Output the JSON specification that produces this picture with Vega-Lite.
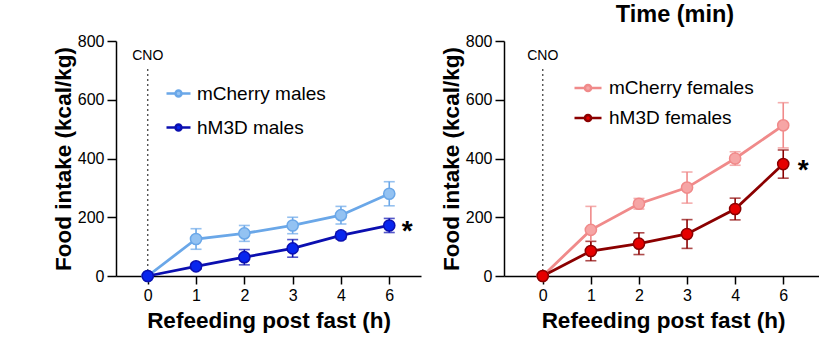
{
  "$schema": "https://vega.github.io/schema/vega-lite/v6.json",
  "padding": {"left": 52, "top": 2, "right": 0, "bottom": 5},
  "background": "white",
  "datasets": {
    "males": [
      {"group": "mCherry males", "h": "0", "mean": 0, "sem": 0},
      {"group": "mCherry males", "h": "1", "mean": 126, "sem": 35},
      {"group": "mCherry males", "h": "2", "mean": 145, "sem": 27},
      {"group": "mCherry males", "h": "3", "mean": 172, "sem": 28},
      {"group": "mCherry males", "h": "4", "mean": 207, "sem": 30},
      {"group": "mCherry males", "h": "6", "mean": 280, "sem": 41},
      {"group": "hM3D males", "h": "0", "mean": 0, "sem": 0},
      {"group": "hM3D males", "h": "1", "mean": 33, "sem": 10},
      {"group": "hM3D males", "h": "2", "mean": 64, "sem": 26},
      {"group": "hM3D males", "h": "3", "mean": 94, "sem": 30},
      {"group": "hM3D males", "h": "4", "mean": 138, "sem": 12},
      {"group": "hM3D males", "h": "6", "mean": 172, "sem": 24}
    ],
    "females": [
      {"group": "mCherry females", "h": "0", "mean": 0, "sem": 0},
      {"group": "mCherry females", "h": "1", "mean": 157, "sem": 80},
      {"group": "mCherry females", "h": "2", "mean": 246, "sem": 18},
      {"group": "mCherry females", "h": "3", "mean": 301, "sem": 53},
      {"group": "mCherry females", "h": "4", "mean": 400, "sem": 23},
      {"group": "mCherry females", "h": "6", "mean": 513, "sem": 77},
      {"group": "hM3D females", "h": "0", "mean": 0, "sem": 0},
      {"group": "hM3D females", "h": "1", "mean": 85, "sem": 33},
      {"group": "hM3D females", "h": "2", "mean": 110, "sem": 37},
      {"group": "hM3D females", "h": "3", "mean": 143, "sem": 49},
      {"group": "hM3D females", "h": "4", "mean": 228, "sem": 37},
      {"group": "hM3D females", "h": "6", "mean": 381, "sem": 48}
    ],
    "cno": [{"h": "0", "lo": 0, "hi": 705, "texty": 749, "label": "CNO"}],
    "starM": [{"h": "6", "mean": 172, "label": "*"}],
    "starF": [{"h": "6", "mean": 381, "label": "*"}]
  },
  "hconcat": [
    {
      "width": 305,
      "height": 235,
      "layer": [
        {
          "data": {"name": "cno"},
          "mark": {"type": "rule", "strokeDash": [2, 3], "color": "#444", "strokeWidth": 1.3},
          "encoding": {
            "x": {"field": "h", "type": "ordinal", "title": "Refeeding post fast (h)", "scale": {"type": "point", "domain": ["0", "1", "2", "3", "4", "6"], "padding": 0.657}},
            "y": {"field": "lo", "type": "quantitative", "title": "Food intake (kcal/kg)", "scale": {"domain": [0, 800]}, "axis": {"values": [0, 200, 400, 600, 800]}},
            "y2": {"field": "hi"}
          }
        },
        {
          "data": {"name": "cno"},
          "mark": {"type": "text", "font": "Liberation Sans", "fontSize": 14, "baseline": "middle", "color": "#000"},
          "encoding": {
            "x": {"field": "h", "type": "ordinal", "title": "Refeeding post fast (h)"},
            "y": {"field": "texty", "type": "quantitative", "title": "Food intake (kcal/kg)"},
            "text": {"field": "label"}
          }
        },
        {
          "data": {"name": "males"},
          "mark": {"type": "line", "strokeWidth": 2.8},
          "encoding": {
            "x": {"field": "h", "type": "ordinal", "title": "Refeeding post fast (h)"},
            "y": {"field": "mean", "type": "quantitative", "title": "Food intake (kcal/kg)"},
            "color": {"field": "group", "type": "nominal", "scale": {"domain": ["mCherry males", "hM3D males"], "range": ["#6aa7e8", "#0b0fb0"]}, "legend": null}
          }
        },
        {
          "data": {"name": "males"},
          "mark": {"type": "errorbar", "thickness": 1.6, "ticks": {"size": 11, "thickness": 1.6}},
          "encoding": {
            "x": {"field": "h", "type": "ordinal", "title": "Refeeding post fast (h)"},
            "y": {"field": "mean", "type": "quantitative", "title": "Food intake (kcal/kg)"},
            "yError": {"field": "sem"},
            "color": {"field": "group", "type": "nominal", "scale": {"domain": ["mCherry males", "hM3D males"], "range": ["#6aa7e8", "#0b0fb0"]}, "legend": null}
          }
        },
        {
          "data": {"name": "males"},
          "mark": {"type": "point", "shape": "circle", "size": 125, "strokeWidth": 1.5, "opacity": 1, "filled": false},
          "encoding": {
            "x": {"field": "h", "type": "ordinal", "title": "Refeeding post fast (h)"},
            "y": {"field": "mean", "type": "quantitative", "title": "Food intake (kcal/kg)"},
            "stroke": {"field": "group", "type": "nominal", "scale": {"domain": ["mCherry males", "hM3D males"], "range": ["#6aa7e8", "#0b0fb0"]}, "legend": null},
            "fill": {"field": "group", "type": "nominal", "scale": {"domain": ["mCherry males", "hM3D males"], "range": ["#93c2f2", "#0826ee"]},
              "legend": {
                "title": null, "orient": "none", "legendX": 49, "legendY": 39, "padding": 0,
                "symbolType": "M-1,0H-0.25M0.25,0H1M0.25,0A0.25,0.25,0,1,1,-0.25,0A0.25,0.25,0,1,1,0.25,0Z",
                "symbolSize": 576, "symbolStrokeWidth": 2.5, "symbolOpacity": 1,
                "labelFont": "Liberation Sans", "labelFontSize": 19, "labelColor": "#000", "labelOffset": 5, "rowPadding": 10,
                "encode": {"symbols": {"update": {"stroke": {"signal": "datum.value === 'hM3D males' ? '#0b0fb0' : '#6aa7e8'"}, "strokeWidth": {"value": 2.5}}}}
              }
            }
          }
        },
        {
          "data": {"name": "starM"},
          "mark": {"type": "text", "font": "Liberation Sans", "fontWeight": "bold", "fontSize": 28, "dx": 18, "dy": 7, "baseline": "middle", "color": "#000"},
          "encoding": {
            "x": {"field": "h", "type": "ordinal", "title": "Refeeding post fast (h)"},
            "y": {"field": "mean", "type": "quantitative", "title": "Food intake (kcal/kg)"},
            "text": {"field": "label"}
          }
        }
      ],
      "resolve": {"scale": {"color": "independent", "stroke": "independent", "fill": "independent"}}
    },
    {
      "width": 318,
      "height": 235,
      "title": {"text": "Time (min)", "font": "Liberation Sans", "fontSize": 23.5, "fontWeight": "bold", "color": "#000", "frame": "group", "offset": 7, "dx": 12},
      "layer": [
        {
          "data": {"name": "cno"},
          "mark": {"type": "rule", "strokeDash": [2, 3], "color": "#444", "strokeWidth": 1.3},
          "encoding": {
            "x": {"field": "h", "type": "ordinal", "title": "Refeeding post fast (h)", "scale": {"type": "point", "domain": ["0", "1", "2", "3", "4", "6"], "padding": 0.806}},
            "y": {"field": "lo", "type": "quantitative", "title": "Food intake (kcal/kg)", "scale": {"domain": [0, 800]}, "axis": {"values": [0, 200, 400, 600, 800]}},
            "y2": {"field": "hi"}
          }
        },
        {
          "data": {"name": "cno"},
          "mark": {"type": "text", "font": "Liberation Sans", "fontSize": 14, "baseline": "middle", "color": "#000"},
          "encoding": {
            "x": {"field": "h", "type": "ordinal", "title": "Refeeding post fast (h)"},
            "y": {"field": "texty", "type": "quantitative", "title": "Food intake (kcal/kg)"},
            "text": {"field": "label"}
          }
        },
        {
          "data": {"name": "females"},
          "mark": {"type": "line", "strokeWidth": 2.8},
          "encoding": {
            "x": {"field": "h", "type": "ordinal", "title": "Refeeding post fast (h)"},
            "y": {"field": "mean", "type": "quantitative", "title": "Food intake (kcal/kg)"},
            "color": {"field": "group", "type": "nominal", "scale": {"domain": ["mCherry females", "hM3D females"], "range": ["#f08a8a", "#8b0000"]}, "legend": null}
          }
        },
        {
          "data": {"name": "females"},
          "mark": {"type": "errorbar", "thickness": 1.6, "ticks": {"size": 11, "thickness": 1.6}},
          "encoding": {
            "x": {"field": "h", "type": "ordinal", "title": "Refeeding post fast (h)"},
            "y": {"field": "mean", "type": "quantitative", "title": "Food intake (kcal/kg)"},
            "yError": {"field": "sem"},
            "color": {"field": "group", "type": "nominal", "scale": {"domain": ["mCherry females", "hM3D females"], "range": ["#f08a8a", "#8b0000"]}, "legend": null}
          }
        },
        {
          "data": {"name": "females"},
          "mark": {"type": "point", "shape": "circle", "size": 125, "strokeWidth": 1.5, "opacity": 1, "filled": false},
          "encoding": {
            "x": {"field": "h", "type": "ordinal", "title": "Refeeding post fast (h)"},
            "y": {"field": "mean", "type": "quantitative", "title": "Food intake (kcal/kg)"},
            "stroke": {"field": "group", "type": "nominal", "scale": {"domain": ["mCherry females", "hM3D females"], "range": ["#f08a8a", "#8b0000"]}, "legend": null},
            "fill": {"field": "group", "type": "nominal", "scale": {"domain": ["mCherry females", "hM3D females"], "range": ["#f6a5a5", "#e60000"]},
              "legend": {
                "title": null, "orient": "none", "legendX": 69, "legendY": 32, "padding": 0,
                "symbolType": "M-1,0H-0.23M0.23,0H1M0.23,0A0.23,0.23,0,1,1,-0.23,0A0.23,0.23,0,1,1,0.23,0Z",
                "symbolSize": 729, "symbolStrokeWidth": 2.5, "symbolOpacity": 1,
                "labelFont": "Liberation Sans", "labelFontSize": 19, "labelColor": "#000", "labelOffset": 6, "rowPadding": 5,
                "encode": {"symbols": {"update": {"stroke": {"signal": "datum.value === 'hM3D females' ? '#8b0000' : '#f08a8a'"}, "strokeWidth": {"value": 2.5}}}}
              }
            }
          }
        },
        {
          "data": {"name": "starF"},
          "mark": {"type": "text", "font": "Liberation Sans", "fontWeight": "bold", "fontSize": 28, "dx": 20, "dy": 7, "baseline": "middle", "color": "#000"},
          "encoding": {
            "x": {"field": "h", "type": "ordinal", "title": "Refeeding post fast (h)"},
            "y": {"field": "mean", "type": "quantitative", "title": "Food intake (kcal/kg)"},
            "text": {"field": "label"}
          }
        }
      ],
      "resolve": {"scale": {"color": "independent", "stroke": "independent", "fill": "independent"}}
    }
  ],
  "spacing": 83,
  "bounds": "flush",
  "resolve": {"scale": {"x": "independent", "y": "independent", "color": "independent", "stroke": "independent", "fill": "independent"}, "legend": {"fill": "independent"}},
  "config": {
    "view": {"stroke": null},
    "axis": {"grid": false, "domainColor": "#000", "tickColor": "#000", "labelColor": "#000", "titleColor": "#000", "labelFont": "Liberation Sans", "titleFont": "Liberation Sans", "labelFontSize": 16, "titleFontSize": 22.5, "titleFontWeight": "bold", "domainWidth": 1.5, "tickWidth": 1.5},
    "axisY": {"tickSize": 9, "labelPadding": 3, "titlePadding": 2},
    "axisX": {"tickSize": 8, "labelPadding": 3, "labelAngle": 0, "titlePadding": 6}
  }
}
